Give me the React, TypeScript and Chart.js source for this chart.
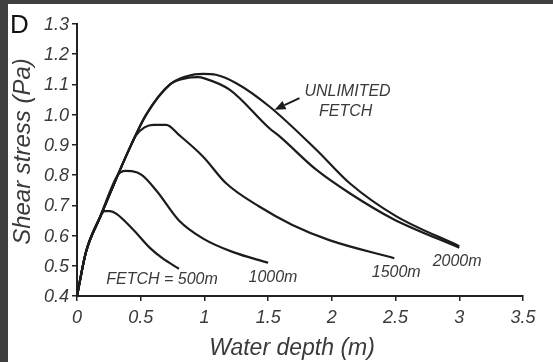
import React, { useEffect, useRef } from "react";
import { Chart, registerables } from "chart.js";

Chart.register(...registerables);

// ---- Data ----
const FETCH_500_DEPTH = [0, 0.07, 0.18, 0.215, 0.26, 0.31, 0.44, 0.57, 0.67, 0.8];
const FETCH_500_STRESS = [0.4, 0.545, 0.66, 0.681, 0.681, 0.672, 0.62, 0.56, 0.525, 0.49];

const FETCH_1000_DEPTH = [0, 0.07, 0.18, 0.32, 0.38, 0.43, 0.51, 0.63, 0.8, 0.99, 1.22, 1.5];
const FETCH_1000_STRESS = [0.4, 0.545, 0.66, 0.8, 0.814, 0.813, 0.8, 0.745, 0.65, 0.59, 0.546, 0.51];

const FETCH_1500_DEPTH = [0, 0.07, 0.18, 0.32, 0.425, 0.46, 0.53, 0.6, 0.7, 0.8, 0.99, 1.17, 1.43, 1.69, 1.98, 2.49];
const FETCH_1500_STRESS = [0.4, 0.545, 0.66, 0.8, 0.9, 0.93, 0.958, 0.966, 0.966, 0.933, 0.861, 0.773, 0.696, 0.635, 0.585, 0.525];

const FETCH_2000_DEPTH = [0, 0.07, 0.18, 0.32, 0.425, 0.543, 0.73, 0.86, 0.95, 1.0, 1.2, 1.51, 1.59, 1.88, 2.14, 2.48, 3.0];
const FETCH_2000_STRESS = [0.4, 0.545, 0.66, 0.8, 0.9, 1.0, 1.1, 1.121, 1.124, 1.12, 1.082, 0.955, 0.928, 0.817, 0.74, 0.655, 0.56];

const UNLIMITED_DEPTH = [0, 0.07, 0.18, 0.32, 0.425, 0.543, 0.73, 0.86, 0.99, 1.09, 1.25, 1.51, 1.88, 2.14, 2.5, 3.0];
const UNLIMITED_STRESS = [0.4, 0.545, 0.66, 0.8, 0.9, 1.0, 1.1, 1.127, 1.135, 1.132, 1.104, 1.027, 0.883, 0.773, 0.665, 0.565];

const X_TICK_VALUES = [0, 0.5, 1, 1.5, 2, 2.5, 3, 3.5];
const X_TICK_LABELS = ["0", "0.5", "1", "1.5", "2", "2.5", "3", "3.5"];
const Y_TICK_VALUES = [0.4, 0.5, 0.6, 0.7, 0.8, 0.9, 1.0, 1.1, 1.2, 1.3];
const Y_TICK_LABELS = ["0.4", "0.5", "0.6", "0.7", "0.8", "0.9", "1.0", "1.1", "1.2", "1.3"];

const X_TITLE = "Water depth (m)";
const Y_TITLE = "Shear stress (Pa)";
const PANEL_LABEL = "D";

const SERIES_LABELS = ["FETCH = 500m", "1000m", "1500m", "2000m", "UNLIMITED FETCH"];
// annotation anchors in data units
const LABEL_TEXTS = ["FETCH = 500m", "1000m", "1500m", "2000m", "UNLIMITED", "FETCH"];
const LABEL_X = [0.667, 1.538, 2.505, 2.983, 2.123, 2.108];
const LABEL_Y = [0.453, 0.46, 0.476, 0.514, 1.076, 1.01];
const ARROW_FROM = [1.746, 1.055];
const ARROW_TO = [1.55, 1.016];

const FONT = "'Liberation Sans', Arial, Helvetica, sans-serif";
const LINE_COLOR = "#1c1c1c";
const TEXT_COLOR = "#3a3a3a";

function pts(xs: number[], ys: number[]) {
  return xs.map((x, i) => ({ x, y: ys[i] }));
}

const overlay = {
  id: "overlay",
  afterDraw(chart: any) {
    const { ctx, chartArea, scales } = chart;
    const xs = scales.x;
    const ys = scales.y;
    ctx.save();

    // panel letter
    ctx.fillStyle = "#111";
    ctx.font = `26px ${FONT}`;
    ctx.textAlign = "left";
    ctx.textBaseline = "alphabetic";
    ctx.fillText(PANEL_LABEL, 2, 29);

    // axis titles
    ctx.fillStyle = TEXT_COLOR;
    ctx.font = `italic 23px ${FONT}`;
    ctx.textAlign = "center";
    ctx.textBaseline = "alphabetic";
    ctx.fillText(X_TITLE, (chartArea.left + chartArea.right) / 2 - 8, 351);

    ctx.save();
    ctx.translate(22, (chartArea.top + chartArea.bottom) / 2 - 8.5);
    ctx.rotate(-Math.PI / 2);
    ctx.font = `italic 24px ${FONT}`;
    ctx.fillText(Y_TITLE, 0, 0);
    ctx.restore();

    // curve annotations
    ctx.font = `italic 16px ${FONT}`;
    ctx.textBaseline = "middle";
    ctx.textAlign = "center";
    LABEL_TEXTS.forEach((t, i) => {
      ctx.fillText(t, xs.getPixelForValue(LABEL_X[i]), ys.getPixelForValue(LABEL_Y[i]));
    });

    // arrow
    const x0 = xs.getPixelForValue(ARROW_FROM[0]);
    const y0 = ys.getPixelForValue(ARROW_FROM[1]);
    const x1 = xs.getPixelForValue(ARROW_TO[0]);
    const y1 = ys.getPixelForValue(ARROW_TO[1]);
    const ang = Math.atan2(y1 - y0, x1 - x0);
    const headLen = 11;
    const headHalf = 4.5;
    const bx = x1 - headLen * Math.cos(ang);
    const by = y1 - headLen * Math.sin(ang);
    ctx.strokeStyle = LINE_COLOR;
    ctx.fillStyle = LINE_COLOR;
    ctx.lineWidth = 2;
    ctx.beginPath();
    ctx.moveTo(x0, y0);
    ctx.lineTo(bx, by);
    ctx.stroke();
    ctx.beginPath();
    ctx.moveTo(x1, y1);
    ctx.lineTo(bx + headHalf * Math.sin(ang), by - headHalf * Math.cos(ang));
    ctx.lineTo(bx - headHalf * Math.sin(ang), by + headHalf * Math.cos(ang));
    ctx.closePath();
    ctx.fill();

    ctx.restore();
  },
};

export default function App() {
  const canvasRef = useRef<HTMLCanvasElement | null>(null);

  useEffect(() => {
    const canvas = canvasRef.current;
    if (!canvas) return;
    const series = [
      pts(FETCH_500_DEPTH, FETCH_500_STRESS),
      pts(FETCH_1000_DEPTH, FETCH_1000_STRESS),
      pts(FETCH_1500_DEPTH, FETCH_1500_STRESS),
      pts(FETCH_2000_DEPTH, FETCH_2000_STRESS),
      pts(UNLIMITED_DEPTH, UNLIMITED_STRESS),
    ];
    const chart = new Chart(canvas, {
      type: "line",
      data: {
        datasets: series.map((data, i) => ({
          label: SERIES_LABELS[i],
          data,
          borderColor: LINE_COLOR,
          borderWidth: 2.2,
          pointRadius: 0,
          fill: false,
          cubicInterpolationMode: "monotone" as const,
        })),
      },
      options: {
        animation: false,
        responsive: false,
        devicePixelRatio: 1,
        layout: { padding: { left: 0, right: 30, top: 20, bottom: 0 } },
        plugins: {
          legend: { display: false },
          tooltip: { enabled: false },
        },
        scales: {
          x: {
            type: "linear",
            min: 0,
            max: 3.5,
            afterFit: (s: any) => {
              s.height = 66;
            },
            afterBuildTicks: (s: any) => {
              s.ticks = X_TICK_VALUES.map((v) => ({ value: v }));
            },
            ticks: {
              padding: 6,
              color: TEXT_COLOR,
              font: { family: FONT, size: 18, style: "italic" },
              maxRotation: 0,
              callback: (_v: any, i: number) => X_TICK_LABELS[i],
            },
            grid: {
              display: true,
              drawOnChartArea: false,
              drawTicks: true,
              tickLength: 5,
              color: "#222",
              lineWidth: 1.5,
            },
            border: { display: true, color: "#222", width: 2 },
          },
          y: {
            type: "linear",
            min: 0.4,
            max: 1.3,
            afterFit: (s: any) => {
              s.width = 69;
            },
            afterBuildTicks: (s: any) => {
              s.ticks = Y_TICK_VALUES.map((v) => ({ value: v }));
            },
            ticks: {
              padding: 3,
              labelOffset: 1,
              color: TEXT_COLOR,
              font: { family: FONT, size: 18, style: "italic" },
              callback: (_v: any, i: number) => Y_TICK_LABELS[i],
            },
            grid: {
              display: true,
              drawOnChartArea: false,
              drawTicks: true,
              tickLength: 5,
              color: "#222",
              lineWidth: 1.5,
            },
            border: { display: true, color: "#222", width: 2 },
          },
        },
      },
      plugins: [overlay],
    });
    return () => chart.destroy();
  }, []);

  return (
    <div
      style={{
        position: "fixed",
        left: 0,
        top: 0,
        width: 553,
        height: 362,
        background: "#3f3f3f",
        overflow: "hidden",
      }}
    >
      <div
        style={{
          position: "absolute",
          left: 8,
          top: 4,
          width: 545,
          height: 358,
          background: "#ffffff",
        }}
      >
        <canvas ref={canvasRef} width={545} height={358} style={{ display: "block" }} />
      </div>
    </div>
  );
}
